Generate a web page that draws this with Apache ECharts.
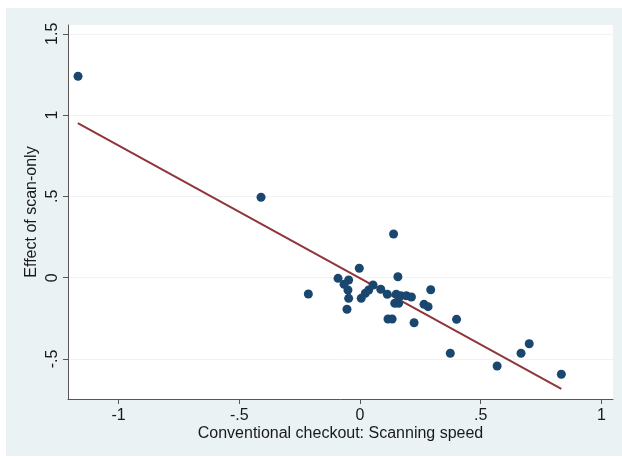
<!DOCTYPE html>
<html>
<head>
<meta charset="utf-8">
<script src="https://cdn.jsdelivr.net/npm/echarts@6/dist/echarts.min.js"></script>
<style>
html,body{margin:0;padding:0;background:#ffffff;}
#chart{width:622px;height:457px;}
</style>
</head>
<body>
<div id="chart"></div>
<script>
// Scatter data: conventional checkout scanning speed (x) vs effect of scan-only (y)
const scanSpeed = [-1.168, -0.410, -0.214, 0.139, -0.003, -0.091, -0.047, -0.066, -0.050, -0.047,
  -0.054, 0.005, 0.022, 0.036, 0.054, 0.086, 0.113, 0.157, 0.150, 0.144,
  0.160, 0.169, 0.192, 0.213, 0.116, 0.133, 0.224, 0.265, 0.282, 0.293,
  0.400, 0.374, 0.568, 0.667, 0.701, 0.834];
const scanOnlyEffect = [1.239, 0.495, -0.100, 0.269, 0.058, -0.004, -0.014, -0.041, -0.076, -0.127,
  -0.194, -0.127, -0.096, -0.076, -0.045, -0.071, -0.102, 0.006, -0.102, -0.157,
  -0.157, -0.111, -0.111, -0.119, -0.254, -0.254, -0.277, -0.164, -0.178, -0.074,
  -0.256, -0.465, -0.543, -0.465, -0.406, -0.594];
// Fitted line endpoints
const fitX = [-1.169, 0.834];
const fitY = [0.950, -0.684];
// Axis ticks
const xTicks = [-1, -0.5, 0, 0.5, 1];
const xTickLabels = ['-1', '-.5', '0', '.5', '1'];
const yTicks = [-0.5, 0, 0.5, 1, 1.5];
const yTickLabels = ['-.5', '0', '.5', '1', '1.5'];
const xTitle = 'Conventional checkout: Scanning speed';
const yTitle = 'Effect of scan-only';

const pts = scanSpeed.map((x, i) => [x, scanOnlyEffect[i]]);
const fitPts = fitX.map((x, i) => [x, fitY[i]]);
const fmt = (ticks, labels) => v => {
  const i = ticks.findIndex(t => Math.abs(t - v) < 1e-9);
  return i >= 0 ? labels[i] : '';
};
const FONT = '"Liberation Sans", Arial, Helvetica, sans-serif';

const chart = echarts.init(document.getElementById('chart'), null, {renderer: 'canvas'});
chart.setOption({
  animation: false,
  backgroundColor: '#ffffff',
  graphic: [{
    type: 'rect', z: -10, silent: true,
    shape: {x: 6, y: 8, width: 616, height: 448},
    style: {fill: '#eaf2f3'}
  }],
  grid: {left: 68, top: 25, right: 9, bottom: 58, show: true, backgroundColor: '#ffffff', borderWidth: 0},
  xAxis: {
    type: 'value', min: -1.2096, max: 1.048,
    name: xTitle, nameLocation: 'middle', nameGap: 27, nameMoveOverlap: false,
    nameTextStyle: {fontFamily: FONT, fontSize: 16, color: '#1a1a1a'},
    axisLine: {show: true, onZero: false, lineStyle: {color: '#555', width: 1}},
    axisTick: {show: true, length: 5, customValues: xTicks, lineStyle: {color: '#555'}},
    axisLabel: {customValues: xTicks, formatter: fmt(xTicks, xTickLabels), margin: 9,
      fontFamily: FONT, fontSize: 16, color: '#1a1a1a'},
    splitLine: {show: false}
  },
  yAxis: {
    type: 'value', min: -0.746, max: 1.554,
    name: yTitle, nameLocation: 'middle', nameGap: 28, nameRotate: 90, nameMoveOverlap: false,
    nameTextStyle: {fontFamily: FONT, fontSize: 16, color: '#1a1a1a'},
    axisLine: {show: true, onZero: false, lineStyle: {color: '#555', width: 1}},
    axisTick: {show: true, length: 5, customValues: yTicks, lineStyle: {color: '#555'}},
    axisLabel: {customValues: yTicks, formatter: fmt(yTicks, yTickLabels), rotate: 90, margin: 7,
      fontFamily: FONT, fontSize: 16, color: '#1a1a1a'},
    splitLine: {show: true, lineStyle: {color: '#eef4f5', width: 1}}
  },
  series: [
    {
      type: 'scatter', data: pts, symbol: 'circle', symbolSize: 9,
      itemStyle: {color: '#1a476f', opacity: 1}, z: 3
    },
    {
      type: 'line', data: fitPts, showSymbol: false, symbol: 'none',
      lineStyle: {color: '#90353b', width: 2}, z: 2
    }
  ]
});
</script>
</body>
</html>
